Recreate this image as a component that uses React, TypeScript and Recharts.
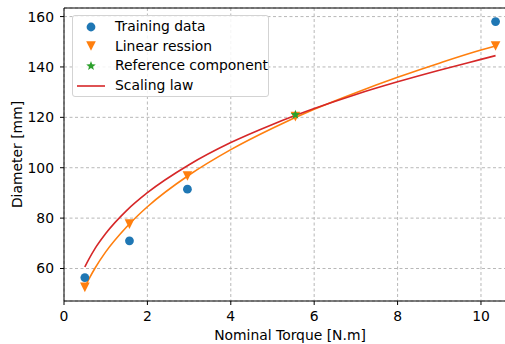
import React from "react";
import {
  ComposedChart,
  Line,
  Scatter,
  XAxis,
  YAxis,
  CartesianGrid,
  Legend,
  ReferenceLine,
} from "recharts";

// Training data (blue circles)
const trainX = [0.5, 1.57, 2.96, 10.35];
const trainY = [56.4, 71.0, 91.5, 158.0];

// Linear regression points (orange triangles)
const regX = [0.5, 1.57, 2.96, 5.55, 10.35];
const regY = [52.5, 77.6, 96.7, 120.3, 148.3];

// Reference component (green star)
const refX = [5.55];
const refY = [121.0];

// Regression curve (orange line)
const fitX = [0.5, 0.6, 0.75, 1, 1.5, 2, 3, 4, 5, 6, 7, 8, 9, 10, 10.35];
const fitY = [52.5, 55.9, 60.3, 66.6, 76.5, 84.5, 97.1, 107.2, 115.7, 123.2, 129.8, 135.9, 141.5, 146.7, 148.3];

// Scaling law (red line)
const lawX = [0.5, 0.6, 0.75, 1, 1.5, 2, 3, 4, 5, 6, 7, 8, 9, 10, 10.35];
const lawY = [60.6, 63.8, 68.1, 73.9, 83.0, 90.1, 101.2, 110.0, 117.2, 123.5, 129.1, 134.1, 138.7, 143.0, 144.5];

const xTicks = [0, 2, 4, 6, 8, 10];
const yTicks = [60, 80, 100, 120, 140, 160];

const X_DOMAIN: [number, number] = [0, 10.84];
const Y_DOMAIN: [number, number] = [47.1, 163.4];

const toPts = (xs: number[], ys: number[]) => xs.map((x, i) => ({ x, y: ys[i] }));

const BLUE = "#1f77b4";
const ORANGE = "#ff7f0e";
const GREEN = "#2ca02c";
const RED = "#d62728";
const FONT = "DejaVu Sans, sans-serif";
const FS = 13.9;

const starPoints = (cx: number, cy: number, R: number) => {
  const r = R * 0.42;
  const pts: string[] = [];
  for (let i = 0; i < 10; i++) {
    const a = -Math.PI / 2 + (i * Math.PI) / 5;
    const rad = i % 2 === 0 ? R : r;
    pts.push(`${cx + rad * Math.cos(a)},${cy + rad * Math.sin(a)}`);
  }
  return pts.join(" ");
};

const CircleShape = (p: any) => <circle cx={p.cx} cy={p.cy} r={4.4} fill={BLUE} />;
const TriShape = (p: any) => {
  const s = 4.8;
  return (
    <polygon
      points={`${p.cx - s},${p.cy - s} ${p.cx + s},${p.cy - s} ${p.cx},${p.cy + s}`}
      fill={ORANGE}
    />
  );
};
const StarShape = (p: any) => <polygon points={starPoints(p.cx, p.cy, 5)} fill={GREEN} />;

const legendItems = [
  { label: "Training data", kind: "circle" },
  { label: "Linear ression", kind: "tri" },
  { label: "Reference component", kind: "star" },
  { label: "Scaling law", kind: "line" },
];

const LegendIcon = ({ kind }: { kind: string }) => (
  <svg width={32} height={14} style={{ display: "block" }}>
    {kind === "circle" && <circle cx={16} cy={7} r={4.4} fill={BLUE} />}
    {kind === "tri" && <polygon points="11.2,2.2 20.8,2.2 16,11.8" fill={ORANGE} />}
    {kind === "star" && <polygon points={starPoints(16, 7, 5)} fill={GREEN} />}
    {kind === "line" && <line x1={2} y1={7} x2={30} y2={7} stroke={RED} strokeWidth={1.6} />}
  </svg>
);

const LegendBox = () => (
  <div
    style={{
      width: 195,
      height: 79,
      border: "1px solid #d3d3d3",
      borderRadius: 3,
      background: "rgba(255,255,255,0.85)",
      fontFamily: FONT,
      fontSize: FS,
      color: "#000",
      boxSizing: "content-box",
      paddingTop: 1,
    }}
  >
    {legendItems.map((it) => (
      <div key={it.label} style={{ display: "flex", alignItems: "center", height: 19.6, paddingLeft: 2 }}>
        <LegendIcon kind={it.kind} />
        <span style={{ marginLeft: 8, whiteSpace: "nowrap", lineHeight: "15px" }}>{it.label}</span>
      </div>
    ))}
  </div>
);

export default function App() {
  return (
    <div style={{ position: "absolute", left: 0, top: 0, width: 505, height: 344, overflow: "hidden", background: "#fff" }}>
      <ComposedChart width={516} height={344} margin={{ top: 8, right: 0, bottom: 0, left: 0 }}>
        <CartesianGrid stroke="#b0b0b0" strokeDasharray="3 2.5" strokeWidth={0.9} />
        <XAxis
          dataKey="x"
          type="number"
          domain={X_DOMAIN}
          ticks={xTicks}
          allowDataOverflow
          height={43}
          stroke="#000"
          tickSize={4}
          tickMargin={6}
          tick={{ fill: "#000", fontSize: FS, fontFamily: FONT }}
          label={{
            value: "Nominal Torque [N.m]",
            position: "insideBottom",
            offset: 4,
            style: { fill: "#000", fontSize: FS, fontFamily: FONT },
          }}
        />
        <YAxis
          dataKey="y"
          type="number"
          domain={Y_DOMAIN}
          ticks={yTicks}
          allowDataOverflow
          width={64}
          stroke="#000"
          tickSize={4}
          tickMargin={6}
          tick={{ fill: "#000", fontSize: FS, fontFamily: FONT }}
          label={{
            value: "Diameter [mm]",
            angle: -90,
            position: "insideLeft",
            offset: 17,
            style: { fill: "#000", fontSize: FS, fontFamily: FONT, textAnchor: "middle" },
          }}
        />
        <ReferenceLine y={Y_DOMAIN[1]} stroke="#000" strokeWidth={1} ifOverflow="visible" />
        <Scatter data={toPts(trainX, trainY)} dataKey="y" shape={CircleShape} isAnimationActive={false} legendType="none" />
        <Line
          data={toPts(fitX, fitY)}
          dataKey="y"
          type="monotone"
          stroke={ORANGE}
          strokeWidth={1.6}
          dot={false}
          activeDot={false}
          isAnimationActive={false}
          legendType="none"
        />
        <Scatter data={toPts(regX, regY)} dataKey="y" shape={TriShape} isAnimationActive={false} legendType="none" />
        <Line
          data={toPts(lawX, lawY)}
          dataKey="y"
          type="monotone"
          stroke={RED}
          strokeWidth={1.6}
          dot={false}
          activeDot={false}
          isAnimationActive={false}
          legendType="none"
        />
        <Scatter data={toPts(refX, refY)} dataKey="y" shape={StarShape} isAnimationActive={false} legendType="none" />
        <Legend
          layout="vertical"
          align="center"
          verticalAlign="middle"
          content={() => <LegendBox />}
          wrapperStyle={{ position: "absolute", left: 72, top: 15, width: 197, height: 82 }}
        />
      </ComposedChart>
    </div>
  );
}
